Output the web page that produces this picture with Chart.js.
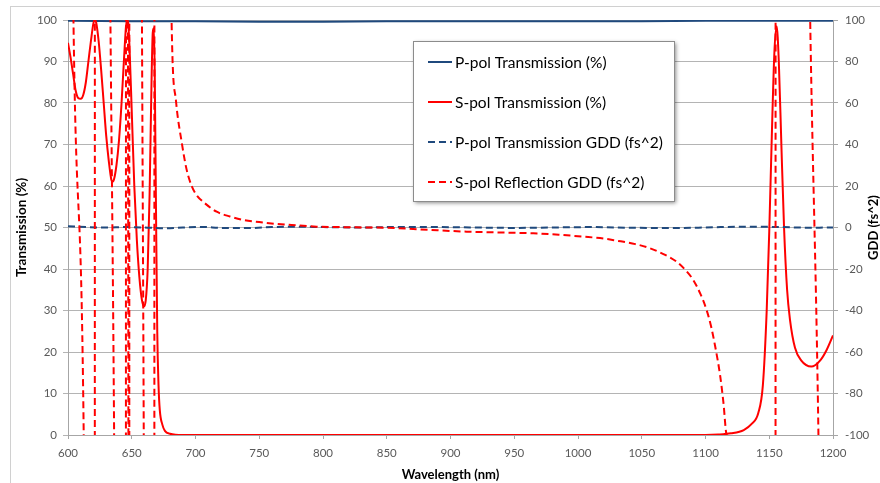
<!DOCTYPE html>
<html>
<head>
<meta charset="utf-8">
<script src="https://cdn.jsdelivr.net/npm/chart.js@4.4.0/dist/chart.umd.min.js"></script>
<style>
  body { margin: 0; background: #fff; }
  #wrap { width: 880px; height: 483px; }
</style>
</head>
<body>
<div id="wrap"><canvas id="gdd" width="880" height="483"></canvas></div>
<script>
// Transmission + GDD of the dichroic, 600-1200 nm

const pPolTransWl  = [600, 650, 700, 750, 800, 850, 900, 950, 1000, 1050, 1100, 1150, 1200];
const pPolTransVal = [99.8, 99.7, 99.7, 99.6, 99.6, 99.7, 99.7, 99.7, 99.7, 99.7, 99.8, 99.8, 99.8];

const sPolTransWl = [600, 602, 604, 606, 608, 610, 612, 614, 616, 618, 620, 621, 622, 624, 626, 628, 630, 632, 634, 635, 636, 638, 640, 642, 644, 645.5, 646.5, 647.3, 648.3, 650, 652, 654, 656, 658, 659.5, 661, 662.5, 664, 665.5, 666.5, 667.3, 668, 669, 670, 671, 672, 674, 676, 680, 690, 800, 900, 1000, 1100, 1110, 1120, 1130, 1136, 1141.4, 1145, 1148, 1150, 1152, 1154, 1155.8, 1157.5, 1159.5, 1161.6, 1164, 1166.3, 1170.2, 1175, 1183, 1190, 1195, 1200];
const sPolTransVal = [94.5, 91, 87, 83, 81.2, 81, 82, 85, 90, 95, 99.3, 100, 99.5, 95, 88, 80, 72, 66, 61.5, 61, 61.5, 65, 71, 80, 91, 98.5, 100, 99, 93, 78, 60, 47, 38, 32.5, 31, 32.5, 40, 58, 85, 97, 98, 88, 55, 25, 12, 6, 2.5, 1, 0.3, 0, 0, 0, 0, 0, 0.1, 0.4, 1.2, 2.6, 5.3, 12, 30, 49, 72, 92, 98.5, 90, 70, 50, 35, 27.7, 21, 18, 16.5, 18, 20.5, 24];

const pPolGddWl  = [600, 615, 630, 645, 660, 675, 690, 705, 720, 740, 760, 780, 800, 830, 860, 890, 920, 950, 980, 1010, 1040, 1070, 1100, 1130, 1160, 1180, 1200];
const pPolGddVal = [0.6, 0.2, 0, 0.2, 0, -0.4, 0, 0.3, -0.2, -0.3, 0.2, 0.4, 0.2, 0, 0.3, 0.2, 0, -0.2, 0, 0.2, -0.1, -0.3, 0, 0.4, 0.2, -0.1, 0];

// resonances run far off the +/-100 axis, so they show as near-vertical lines
const sPolGddWl  = [600, 603.5, 613, 616, 620.9, 621.2, 628, 632.5, 636.8, 640, 645.3, 645.6, 646.5, 646.9, 647.5, 647.8, 648.0, 648.2, 655, 657.8, 659.6, 662, 667.6, 667.9, 676, 680, 681.3, 684.7, 689.2, 693, 697, 701, 706, 716.6, 727, 737.5, 750, 763.7, 780, 795, 826, 858, 885, 912.7, 940, 965, 985, 1004, 1020, 1030, 1045, 1056.5, 1067, 1077.4, 1085, 1090.4, 1096, 1101, 1104.5, 1107.5, 1111.4, 1114, 1116.6, 1118, 1120, 1154.8, 1155.1, 1175, 1180, 1190.5, 1195, 1200];
const sPolGddVal = [600, 140, -140, -600, -600, 600, 600, 160, -160, -600, -600, 600, 600, 200, -200, -600, -600, 600, 600, 130, -130, -600, -600, 600, 600, 180, 98, 61, 41, 28, 20, 15.5, 12.4, 7.6, 5.3, 3.6, 2.6, 1.7, 1.0, 0.4, 0.1, -0.3, -1.2, -2, -2.4, -2.8, -3.5, -4.4, -5.3, -6.3, -8, -10, -12.8, -16.5, -21, -25.3, -32, -40, -48, -57, -71, -84, -100, -110, -600, -600, 600, 600, 200, -200, -600, -600];

const xy = (xs, ys) => xs.map((x, i) => ({ x: x, y: ys[i] }));

const blue = '#1F497D';
const red = '#FF0000';

Chart.defaults.font.family = 'Lato';

const frame = {
  id: 'frame',
  beforeDraw(chart) {
    const ctx = chart.ctx;
    ctx.save();
    ctx.fillStyle = '#fff';
    ctx.fillRect(0, 0, chart.width, chart.height);
    ctx.strokeStyle = '#d0d0d0';
    ctx.lineWidth = 1;
    ctx.strokeRect(10.5, 6.5, 1000, 1000);
    ctx.restore();
  },
  afterDraw(chart) {
    const ctx = chart.ctx;
    const area = chart.chartArea;
    // right axis title reads bottom-to-top like the left one
    ctx.save();
    ctx.translate(874, (area.top + area.bottom) / 2);
    ctx.rotate(-Math.PI / 2);
    ctx.font = 'bold 13px Lato';
    ctx.fillStyle = '#000';
    ctx.textAlign = 'center';
    ctx.textBaseline = 'middle';
    ctx.fillText('GDD (fs^2)', 0, 0);
    ctx.restore();

    // boxed legend inside the plot
    const bx = 413, by = 41, bw = 261, bh = 160;
    ctx.save();
    ctx.shadowColor = 'rgba(0,0,0,0.45)';
    ctx.shadowBlur = 4;
    ctx.shadowOffsetX = 2;
    ctx.shadowOffsetY = 2;
    ctx.fillStyle = '#fff';
    ctx.fillRect(bx, by, bw, bh);
    ctx.restore();
    ctx.save();
    ctx.strokeStyle = '#8c8c8c';
    ctx.lineWidth = 1;
    ctx.strokeRect(bx + 0.5, by + 0.5, bw, bh);
    ctx.font = '15.5px Lato';
    ctx.textBaseline = 'middle';
    chart.data.datasets.forEach((ds, i) => {
      const ry = 62 + i * 40;
      ctx.strokeStyle = ds.borderColor;
      ctx.lineWidth = 2;
      ctx.setLineDash(ds.borderDash || []);
      ctx.beginPath();
      ctx.moveTo(428, ry);
      ctx.lineTo(452, ry);
      ctx.stroke();
      ctx.setLineDash([]);
      ctx.fillStyle = '#000';
      ctx.fillText(ds.label, 455, ry + 1);
    });
    ctx.restore();
  }
};

new Chart(document.getElementById('gdd'), {
  type: 'line',
  data: {
    datasets: [{
      label: 'P-pol Transmission (%)',
      data: xy(pPolTransWl, pPolTransVal),
      borderColor: blue,
      borderWidth: 2,
      yAxisID: 'y',
      order: 4
    }, {
      label: 'S-pol Transmission (%)',
      data: xy(sPolTransWl, sPolTransVal),
      borderColor: red,
      borderWidth: 2,
      cubicInterpolationMode: 'monotone',
      yAxisID: 'y',
      order: 3
    }, {
      label: 'P-pol Transmission GDD (fs^2)',
      data: xy(pPolGddWl, pPolGddVal),
      borderColor: blue,
      borderWidth: 2,
      borderDash: [7, 4],
      cubicInterpolationMode: 'monotone',
      yAxisID: 'y2',
      order: 2
    }, {
      label: 'S-pol Reflection GDD (fs^2)',
      data: xy(sPolGddWl, sPolGddVal),
      borderColor: red,
      borderWidth: 2,
      borderDash: [7, 4],
      cubicInterpolationMode: 'monotone',
      yAxisID: 'y2',
      order: 1
    }]
  },
  options: {
    responsive: false,
    animation: false,
    layout: { padding: { top: 20, left: 0, right: 0, bottom: 0 } },
    elements: { point: { radius: 0 } },
    plugins: { legend: { display: false }, tooltip: { enabled: false } },
    scales: {
      x: {
        type: 'linear',
        min: 600,
        max: 1200,
        afterFit: s => { s.height = 48; },
        ticks: { stepSize: 50, color: '#595959', font: { size: 11.5 }, padding: 7, callback: v => String(v) },
        grid: { drawOnChartArea: false, tickLength: 4, color: '#a6a6a6' },
        border: { color: '#a6a6a6' },
        title: { display: true, text: 'Wavelength (nm)', color: '#000', font: { size: 13, weight: 'bold' }, padding: { top: 0, bottom: 0 } }
      },
      y: {
        position: 'left',
        min: 0,
        max: 100,
        afterFit: s => { s.width = 68; },
        ticks: { stepSize: 10, color: '#595959', font: { size: 11.5 }, padding: 6 },
        grid: { color: '#b4b4b4', tickLength: 5 },
        border: { color: '#a6a6a6' },
        title: { display: true, text: 'Transmission (%)', color: '#000', font: { size: 13.5, weight: 'bold' }, padding: { top: 14, bottom: 0 } }
      },
      y2: {
        position: 'right',
        min: -100,
        max: 100,
        afterFit: s => { s.width = 47; },
        ticks: { stepSize: 20, color: '#595959', font: { size: 11.5 }, padding: 7 },
        grid: { drawOnChartArea: false, tickLength: 5, color: '#a6a6a6' },
        border: { color: '#a6a6a6' }
      }
    }
  },
  plugins: [frame]
});
</script>
</body>
</html>
